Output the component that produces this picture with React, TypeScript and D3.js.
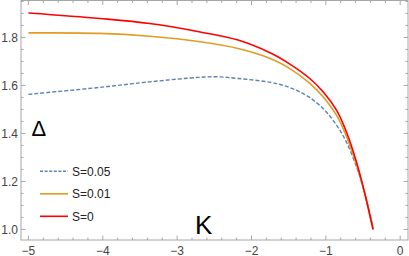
import * as d3 from "d3";

const kS0 = [-5.0, -4.04, -3.37, -2.69, -2.18, -1.73, -1.484, -1.216, -1.037, -0.857, -0.723, -0.588, -0.477, -0.365];
const dS0 = [1.902, 1.879, 1.858, 1.823, 1.789, 1.733, 1.689, 1.629, 1.574, 1.497, 1.406, 1.281, 1.151, 1.0];

const kS001 = [-5.0, -4.04, -3.37, -2.69, -2.18, -1.73, -1.484, -1.216, -1.037, -0.857, -0.746, -0.588, -0.477, -0.365];
const dS001 = [1.819, 1.817, 1.805, 1.782, 1.754, 1.71, 1.67, 1.609, 1.553, 1.476, 1.405, 1.27, 1.15, 1.0];

const kS005 = [-5.0, -4.04, -3.37, -2.69, -2.45, -2.18, -1.73, -1.484, -1.26, -1.037, -0.857, -0.723, -0.588, -0.5, -0.387, -0.365];
const dS005 = [1.563, 1.592, 1.615, 1.634, 1.636, 1.629, 1.612, 1.591, 1.558, 1.504, 1.435, 1.364, 1.261, 1.178, 1.039, 1.0];

const xTicks = [-5, -4, -3, -2, -1, 0];
const yTicks = [1.0, 1.2, 1.4, 1.6, 1.8];
const legendLabels = ["S=0.05", "S=0.01", "S=0"];

const W = 409;
const H = 256;

const x = d3.scaleLinear().domain([-5.1, 0.105]).range([21, 408]);
const y = d3.scaleLinear().domain([0.956, 1.954]).range([240, 0.5]);

const line = d3
  .line<[number, number]>()
  .x((d) => x(d[0]))
  .y((d) => y(d[1]))
  .curve(d3.curveCatmullRom.alpha(0.5));

const zip = (a: number[], b: number[]) => a.map((v, i) => [v, b[i]] as [number, number]);

const series = [
  { label: legendLabels[0], pts: zip(kS005, dS005), color: "#5e81b5", dash: "4,2", w: 1.4 },
  { label: legendLabels[1], pts: zip(kS001, dS001), color: "#e19c24", dash: "", w: 1.6 },
  { label: legendLabels[2], pts: zip(kS0, dS0), color: "#ff0000", dash: "", w: 1.6 },
];

const frameColor = "#a6a6a6";
const font = "'Liberation Sans', Arial, sans-serif";

export default function App() {
  const [x0, x1] = x.range();
  const [y0, y1] = y.range();

  const xMinor = d3.range(-5.0, 0.1001, 0.2).filter((v) => Math.abs(v - Math.round(v)) > 1e-6);
  const yMinor = d3.range(0.95, 1.951, 0.05).filter(
    (v) => v >= 0.956 && Math.abs(v * 5 - Math.round(v * 5)) > 1e-6
  );

  const minus = (v: number) => (v < 0 ? "\u2212" + Math.abs(v) : String(v));

  return (
    <svg width={W} height={H} style={{ position: "absolute", left: 0, top: 0 }} fontFamily={font}>
      <rect width={W} height={H} fill="white" />

      {series.map((s) => (
        <path
          key={s.label}
          d={line(s.pts) ?? ""}
          fill="none"
          stroke={s.color}
          strokeWidth={s.w}
          strokeDasharray={s.dash || undefined}
        />
      ))}

      {/* frame */}
      <rect x={x0} y={y1} width={x1 - x0} height={y0 - y1} fill="none" stroke={frameColor} strokeWidth={1} />

      {/* x ticks, bottom and top */}
      {xTicks.map((t) => (
        <g key={"xt" + t} stroke={frameColor}>
          <line x1={x(t)} x2={x(t)} y1={y0} y2={y0 - 4.5} />
          <line x1={x(t)} x2={x(t)} y1={y1} y2={y1 + 4.5} />
        </g>
      ))}
      {xMinor.map((t) => (
        <g key={"xm" + t} stroke={frameColor}>
          <line x1={x(t)} x2={x(t)} y1={y0} y2={y0 - 2.5} />
          <line x1={x(t)} x2={x(t)} y1={y1} y2={y1 + 2.5} />
        </g>
      ))}

      {/* y ticks, left and right */}
      {yTicks.map((t) => (
        <g key={"yt" + t} stroke={frameColor}>
          <line x1={x0} x2={x0 + 4.5} y1={y(t)} y2={y(t)} />
          <line x1={x1} x2={x1 - 4.5} y1={y(t)} y2={y(t)} />
        </g>
      ))}
      {yMinor.map((t) => (
        <g key={"ym" + t} stroke={frameColor}>
          <line x1={x0} x2={x0 + 2.5} y1={y(t)} y2={y(t)} />
          <line x1={x1} x2={x1 - 2.5} y1={y(t)} y2={y(t)} />
        </g>
      ))}

      {/* tick labels */}
      {xTicks.map((t) => (
        <text key={"xl" + t} x={x(t)} y={254.5} textAnchor="middle" fontSize={12} fill="#444">
          {minus(t)}
        </text>
      ))}
      {yTicks.map((t) => (
        <text key={"yl" + t} x={18} y={y(t) + 4.3} textAnchor="end" fontSize={12} fill="#444">
          {t.toFixed(1)}
        </text>
      ))}

      {/* axis labels */}
      <text x={31.5} y={136} fontSize={22} fill="#000">
        Δ
      </text>
      <text x={195} y={234} fontSize={26} fill="#000">
        K
      </text>

      {/* legend */}
      {series.map((s, i) => {
        const ly = 171.3 + i * 22.5;
        return (
          <g key={"lg" + s.label}>
            <line
              x1={40}
              x2={68}
              y1={ly}
              y2={ly}
              stroke={s.color}
              strokeWidth={s.w}
              strokeDasharray={s.dash ? "3,1.6" : undefined}
            />
            <text x={72} y={ly + 4.3} fontSize={12} fill="#222">
              {s.label}
            </text>
          </g>
        );
      })}
    </svg>
  );
}
